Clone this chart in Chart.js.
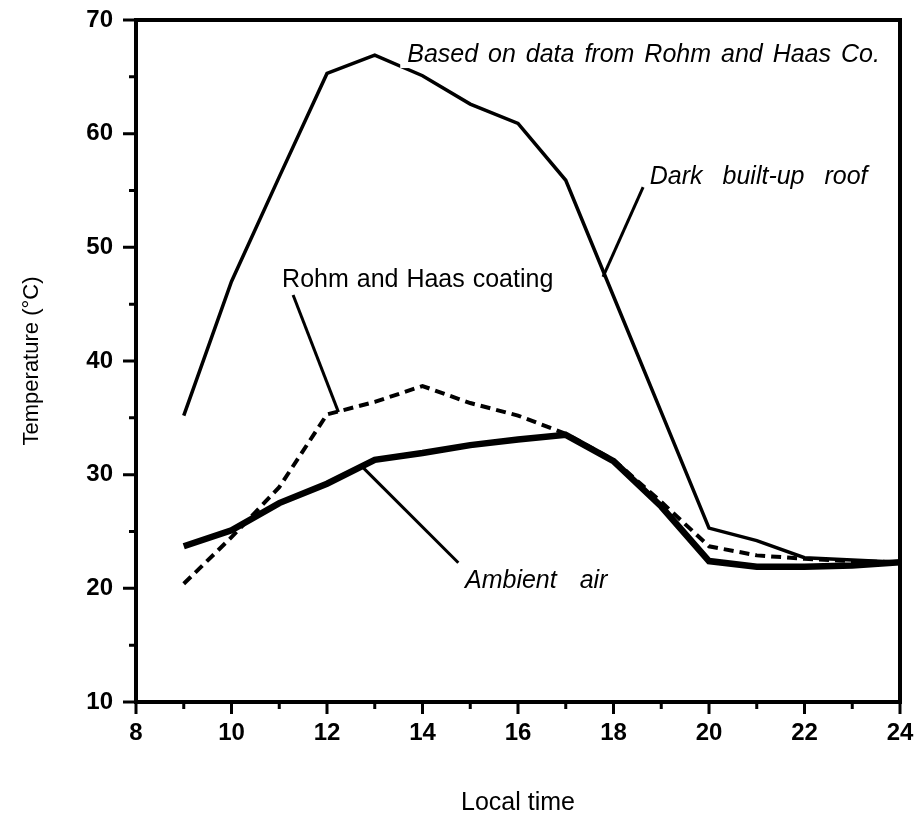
<!DOCTYPE html>
<html>
<head>
<meta charset="utf-8">
<script src="https://cdn.jsdelivr.net/npm/chart.js@4.4.0/dist/chart.umd.min.js"></script>
<style>
  body { margin: 0; background: #fff; }
  canvas { display: block; }
</style>
</head>
<body>
<canvas id="chart" width="922" height="816"></canvas>
<script>
// local time (hours)
const hours = [9, 10, 11, 12, 13, 14, 15, 16, 17, 18, 19, 20, 21, 22, 23, 24];
// temperatures (deg C)
const darkRoof = [35.2, 47.0, 56.2, 65.3, 66.9, 65.1, 62.6, 60.9, 55.9, 45.7, 35.5, 25.3, 24.2, 22.7, 22.5, 22.3];
const coating  = [20.4, 24.5, 28.9, 35.3, 36.4, 37.8, 36.3, 35.2, 33.6, 31.3, 27.6, 23.7, 22.9, 22.6, 22.4, 22.3];
const ambient  = [23.7, 25.1, 27.5, 29.2, 31.3, 31.9, 32.6, 33.1, 33.5, 31.2, 27.2, 22.4, 21.9, 21.9, 22.0, 22.3];

const xRange = [8, 24];
const yRange = [10, 70];

// callouts: text, where it sits (hour, deg C), style, leader line ends
const notes = [
  { text: 'Based on data from Rohm and Haas Co.', x: 13.68, y: 66.3, italic: true, gap: 3, knockout: true },
  { text: 'Dark built-up roof', x: 18.76, y: 55.6, italic: true, gap: 13, line: [18.62, 55.3, 17.78, 47.4] },
  { text: 'Rohm and Haas coating', x: 11.06, y: 46.5, italic: false, gap: 1, line: [11.29, 45.8, 12.24, 35.5] },
  { text: 'Ambient air', x: 14.89, y: 20.0, italic: true, gap: 16, line: [12.76, 30.6, 14.75, 22.25] }
];

const ctx = document.getElementById('chart');

function toPoints(values) {
  return hours.map((h, i) => ({ x: h, y: values[i] }));
}

const notesPlugin = {
  id: 'notes',
  afterDatasetsDraw(chart) {
    const c = chart.ctx;
    const x = chart.scales.x, y = chart.scales.y;
    c.save();
    c.fillStyle = '#000';
    c.strokeStyle = '#000';
    c.textBaseline = 'alphabetic';
    c.textAlign = 'left';
    notes.forEach(n => {
      c.font = (n.italic ? 'italic ' : '') + '25px "Liberation Sans", Arial, sans-serif';
      c.wordSpacing = n.gap + 'px';
      const px = x.getPixelForValue(n.x);
      const py = y.getPixelForValue(n.y);
      if (n.knockout) {
        const w = c.measureText(n.text).width;
        c.fillStyle = '#fff';
        c.fillRect(px - 7, py - 22, w + 10, 28);
        c.fillStyle = '#000';
      }
      c.fillText(n.text, px, py);
      if (n.line) {
        c.lineWidth = 3;
        c.beginPath();
        c.moveTo(x.getPixelForValue(n.line[0]), y.getPixelForValue(n.line[1]));
        c.lineTo(x.getPixelForValue(n.line[2]), y.getPixelForValue(n.line[3]));
        c.stroke();
      }
    });
    c.restore();
  }
};

const framePlugin = {
  id: 'frame',
  afterDraw(chart) {
    const c = chart.ctx;
    const a = chart.chartArea;
    const x = chart.scales.x, y = chart.scales.y;
    c.save();
    c.strokeStyle = '#000';
    c.lineWidth = 4;
    c.strokeRect(a.left, a.top, a.right - a.left, a.bottom - a.top);
    c.lineWidth = 3;
    c.beginPath();
    for (let v = yRange[0]; v <= yRange[1]; v += 5) {
      const py = y.getPixelForValue(v);
      const len = v % 10 === 0 ? 13 : 7;
      c.moveTo(a.left - len, py);
      c.lineTo(a.left, py);
    }
    for (let h = xRange[0]; h <= xRange[1]; h++) {
      const px = x.getPixelForValue(h);
      const len = h % 2 === 0 ? 12 : 7;
      c.moveTo(px, a.bottom);
      c.lineTo(px, a.bottom + len);
    }
    c.stroke();
    c.restore();
  }
};

new Chart(ctx, {
  type: 'line',
  data: {
    datasets: [{
      label: 'Dark built-up roof',
      data: toPoints(darkRoof),
      borderColor: '#000',
      borderWidth: 3.5,
      pointRadius: 0,
      tension: 0
    }, {
      label: 'Rohm and Haas coating',
      data: toPoints(coating),
      borderColor: '#000',
      borderWidth: 4,
      borderDash: [10, 6],
      pointRadius: 0,
      tension: 0
    }, {
      label: 'Ambient air',
      data: toPoints(ambient),
      borderColor: '#000',
      borderWidth: 6.5,
      pointRadius: 0,
      tension: 0
    }]
  },
  options: {
    responsive: false,
    animation: false,
    layout: { padding: { top: 20, right: 22, left: 0, bottom: 0 } },
    plugins: {
      legend: { display: false },
      tooltip: { enabled: false }
    },
    scales: {
      x: {
        type: 'linear',
        min: xRange[0],
        max: xRange[1],
        afterFit(scale) {
          scale.height = 114;
          scale.paddingLeft = 0;
          scale.paddingRight = 0;
        },
        grid: { display: false, drawTicks: false },
        border: { display: false },
        ticks: {
          stepSize: 2,
          padding: 17,
          color: '#000',
          font: { family: '"Liberation Sans", Arial, sans-serif', size: 24, weight: 'bold' }
        },
        title: {
          display: true,
          text: 'Local time',
          color: '#000',
          padding: { top: 0, bottom: 0 },
          font: { family: '"Liberation Sans", Arial, sans-serif', size: 25, lineHeight: 1.0 }
        }
      },
      y: {
        min: yRange[0],
        max: yRange[1],
        afterFit(scale) {
          scale.width = 136;
          scale.paddingTop = 0;
          scale.paddingBottom = 0;
        },
        grid: { display: false, drawTicks: false },
        border: { display: false },
        ticks: {
          stepSize: 10,
          padding: 23,
          color: '#000',
          font: { family: '"Liberation Sans", Arial, sans-serif', size: 24, weight: 'bold' }
        },
        title: {
          display: true,
          text: 'Temperature (°C)',
          color: '#000',
          padding: { top: 19, bottom: 0 },
          font: { family: '"Liberation Sans", Arial, sans-serif', size: 22 }
        }
      }
    }
  },
  plugins: [notesPlugin, framePlugin]
});
</script>
</body>
</html>
